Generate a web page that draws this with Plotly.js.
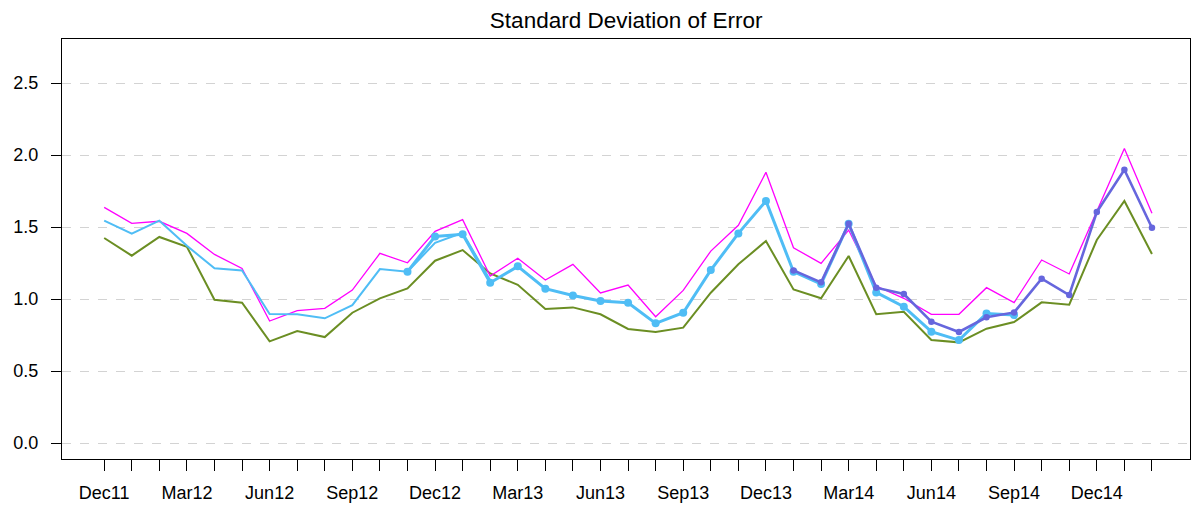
<!DOCTYPE html>
<html>
<head>
<meta charset="utf-8">
<script src="https://cdn.plot.ly/plotly-3.0.1.min.js"></script>
<style>html,body{margin:0;padding:0;background:#fff;}#chart{width:1195px;height:508px;}</style>
</head>
<body>
<div id="chart"></div>
<script>
var months = ["Dec11","Jan12","Feb12","Mar12","Apr12","May12","Jun12","Jul12","Aug12","Sep12","Oct12","Nov12",
  "Dec12","Jan13","Feb13","Mar13","Apr13","May13","Jun13","Jul13","Aug13","Sep13","Oct13","Nov13",
  "Dec13","Jan14","Feb14","Mar14","Apr14","May14","Jun14","Jul14","Aug14","Sep14","Oct14","Nov14",
  "Dec14","Jan15","Feb15"];
var tickLabels = ["Dec11","Mar12","Jun12","Sep12","Dec12","Mar13","Jun13","Sep13","Dec13","Mar14","Jun14","Sep14","Dec14"];

var magentaVals = [1.637,1.526,1.540,1.456,1.310,1.213,0.847,0.919,0.935,1.062,1.317,1.252,
  1.470,1.551,1.160,1.283,1.132,1.241,1.042,1.097,0.877,1.060,1.333,1.512,
  1.880,1.356,1.248,1.479,1.090,1.005,0.894,0.894,1.079,0.975,1.271,1.174,
  1.610,2.046,1.595];
var greenVals = [1.424,1.301,1.431,1.363,0.995,0.974,0.706,0.778,0.736,0.905,1.005,1.074,
  1.266,1.340,1.178,1.099,0.931,0.942,0.894,0.792,0.771,0.801,1.044,1.241,
  1.403,1.067,1.005,1.299,0.894,0.912,0.715,0.699,0.794,0.840,0.977,0.961,
  1.410,1.681,1.313];
// light blue, thin, no markers: Dec11..Feb13
var blueThinMonths = months.slice(0,15);
var blueThinVals = [1.544,1.454,1.544,1.370,1.213,1.199,0.896,0.894,0.866,0.958,1.208,1.190,
  1.390,1.460,1.130];
// light blue with markers: Nov12..Sep14
var blueMarkMonths = months.slice(11,34);
var blueMarkVals = [1.190,1.435,1.450,1.113,1.227,1.072,1.025,0.986,0.974,0.831,0.905,1.201,
  1.456,1.681,1.190,1.104,1.523,1.046,0.947,0.773,0.715,0.900,0.889];
// slate blue with markers: Jan14..Feb15
var slateMonths = months.slice(25,39);
var slateVals = [1.199,1.116,1.523,1.079,1.035,0.843,0.771,0.873,0.907,1.141,1.028,1.604,1.898,1.495];

var tickText = months.map(function(m){ return tickLabels.indexOf(m) >= 0 ? m : ""; });

var traces = [
  {x: months, y: greenVals, type: 'scatter', mode: 'lines', line: {color: '#6B8E23', width: 2}},
  {x: months, y: magentaVals, type: 'scatter', mode: 'lines', line: {color: '#FF00FF', width: 1.3}},
  {x: blueThinMonths, y: blueThinVals, type: 'scatter', mode: 'lines', line: {color: '#4FBDF5', width: 2}},
  {x: blueMarkMonths, y: blueMarkVals, type: 'scatter', mode: 'lines+markers', line: {color: '#4FBDF5', width: 3}, marker: {color: '#4FBDF5', size: 8}},
  {x: slateMonths, y: slateVals, type: 'scatter', mode: 'lines+markers', line: {color: '#6666DD', width: 2.6}, marker: {color: '#6666DD', size: 6.5}}
];

var layout = {
  width: 1195, height: 508,
  margin: {l: 62, r: 5, t: 39, b: 49, pad: 0},
  paper_bgcolor: '#ffffff', plot_bgcolor: '#ffffff',
  showlegend: false,
  font: {family: 'Liberation Sans, Arial, sans-serif', color: '#000', size: 18},
  title: {text: 'Standard Deviation of Error', font: {size: 22.5, color: '#000'}, x: 0.524, xanchor: 'center', y: 0.96, yanchor: 'middle'},
  xaxis: {
    type: 'category', categoryorder: 'array', categoryarray: months,
    range: [-1.53, 39.38],
    tickmode: 'array', tickvals: months, ticktext: tickText,
    ticks: 'outside', ticklen: 11, tickcolor: '#000', tickwidth: 1,
    ticklabelstandoff: 6,
    showline: true, linecolor: '#000', linewidth: 1, mirror: true,
    showgrid: false, zeroline: false,
    tickfont: {size: 18}
  },
  yaxis: {
    range: [-0.111, 2.806],
    tickmode: 'array', tickvals: [0, 0.5, 1.0, 1.5, 2.0, 2.5],
    ticktext: ['0.0','0.5','1.0','1.5','2.0','2.5'],
    ticks: 'outside', ticklen: 10, tickcolor: '#000', tickwidth: 1,
    ticklabelstandoff: 9,
    showline: true, linecolor: '#000', linewidth: 1, mirror: true,
    showgrid: true, gridcolor: '#d3d3d3', gridwidth: 1, griddash: 'dash',
    zeroline: false,
    tickfont: {size: 18}
  }
};

Plotly.newPlot('chart', traces, layout, {staticPlot: true, displayModeBar: false});
</script>
</body>
</html>
